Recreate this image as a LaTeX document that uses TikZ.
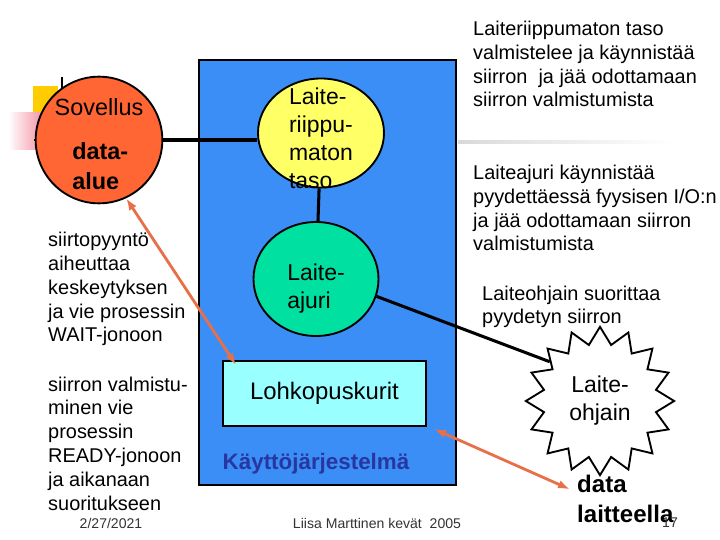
\documentclass[tikz,border=0pt]{standalone}
\usepackage{fontspec}
\setmainfont{Liberation Sans}
\usepackage{tikz}
\usetikzlibrary{arrows.meta,shapes.geometric,calc}

\definecolor{osblue}{RGB}{58,142,246}
\definecolor{sovorange}{RGB}{255,102,51}
\definecolor{riippuyellow}{RGB}{255,255,102}
\definecolor{ajurigreen}{RGB}{0,224,160}
\definecolor{puskuricyan}{RGB}{153,255,255}
\definecolor{kjblue}{RGB}{40,55,160}
\definecolor{floworange}{RGB}{232,112,72}
\definecolor{bulletyellow}{RGB}{255,204,0}
\definecolor{bulletpink}{RGB}{235,70,100}

\tikzset{
	txt/.style={anchor=base west, align=left},
	big/.style={font=\fontsize{19.6}{23.9}\selectfont},
	small/.style={font=\fontsize{12}{14}\selectfont, text=black!80},
	layer/.style={draw, line width=1.6pt},
	link/.style={line width=2.6pt},
	flow/.style={<->, draw=floworange, line width=2.4pt},
}

\begin{document}
\begin{tikzpicture}[x=0.03cm, y=-0.03cm, every node/.style={inner sep=0pt, font=\fontsize{17}{20.3}\selectfont}, >={Latex[length=3.6mm, width=2.6mm]}]
	\useasboundingbox (0,0) rectangle (720,540);
	% slide bullet and rule
	\fill[bulletyellow] (33,86) rectangle (58,113);
	\shade[left color=white, right color=bulletpink!70] (8,113) rectangle (50,150);
	\draw[line width=1.6pt] (62,77) -- (62,140) -- (34,140);
	\shade[left color=gray!30, right color=white] (458,141) rectangle (672,144);
	
	% operating system
	\filldraw[fill=osblue, line width=2.4pt] (199,60) rectangle (456,485);
	
	\node[layer, circle, fill=sovorange, minimum size=3.8cm, inner sep=-6pt, align=left, font=\fontsize{20}{25.5}\selectfont] (sovellus) at (99,140) {\rule{0pt}{22pt}Sovellus\\[12pt]\hspace*{15pt}\textbf{data-}\\\hspace*{15pt}\textbf{alue}};
	\node[layer, ellipse, fill=riippuyellow, minimum width=3.78cm, minimum height=3.27cm, inner ysep=-20pt, align=left, big] (riippumaton) at (321,133) {\rule{0pt}{23pt}Laite-\\riippu-\\maton\\taso};
	\node[layer, ellipse, fill=ajurigreen, minimum width=3.75cm, minimum height=3.42cm, align=left, big] (ajuri) at (316,279) {\rule{0pt}{30pt}Laite-\\ajuri};
	\node[layer, fill=puskuricyan, minimum width=6.09cm, minimum height=1.95cm, font=\fontsize{20.4}{24}\selectfont] (lohko) at (324.5,393.5) {Lohkopuskurit};
	\node[anchor=base, text=kjblue, font=\bfseries\fontsize{19.1}{23}\selectfont] (kj) at (316,469) {Käyttöjärjestelmä};
	
	\node[layer, star, star points=16, star point ratio=1.3, minimum size=4.45cm, fill=white, align=center, big] (ohjain) at (600,401) {Laite-\\ohjain};
	\node[txt, font=\bfseries\fontsize{20.5}{24.8}\selectfont] (laitteella) at (577,522) {data\\laitteella};
	
	% explanations (base = last line)
	\node[txt] (pyynto) at (48,342) {siirtopyyntö\\aiheuttaa\\keskeytyksen\\ja vie prosessin\\WAIT-jonoon};
	\node[txt] (valmis) at (48,510) {siirron valmistu-\\minen vie\\prosessin\\READY-jonoon\\ja aikanaan\\suoritukseen};
	\node[txt] (riippuTxt) at (473,107) {Laiteriippumaton taso\\valmistelee ja käynnistää\\siirron\ \ ja jää odottamaan\\siirron valmistumista};
	\node[txt] (ajuriTxt) at (473,251) {Laiteajuri käynnistää\\pyydettäessä fyysisen I/O:n\\ja jää odottamaan siirron\\valmistumista};
	\node[txt] (ohjainTxt) at (482,324) {Laiteohjain suorittaa\\pyydetyn siirron};
	
	\node[small, anchor=base] (datum) at (111,528) {2/27/2021};
	\node[small, anchor=base] (tekija) at (377,528) {Liisa Marttinen kevät\ \ 2005};
	\node[small, anchor=base] (sivu) at (670,527) {17};
	
	\draw[link] (sovellus.east) -- (sovellus.east -| riippumaton.west);
	\draw[link] (riippumaton) -- (ajuri);
	\draw[link] (ajuri.-16) -- (ohjain.142);
	\draw[flow] (sovellus.-65) -- ($(lohko.north west)+(14,5)$);
	\draw[flow] ($(lohko.south east)+(7,2)$) -- ($(laitteella.north west)+(-7,14)$);
\end{tikzpicture}
\end{document}
